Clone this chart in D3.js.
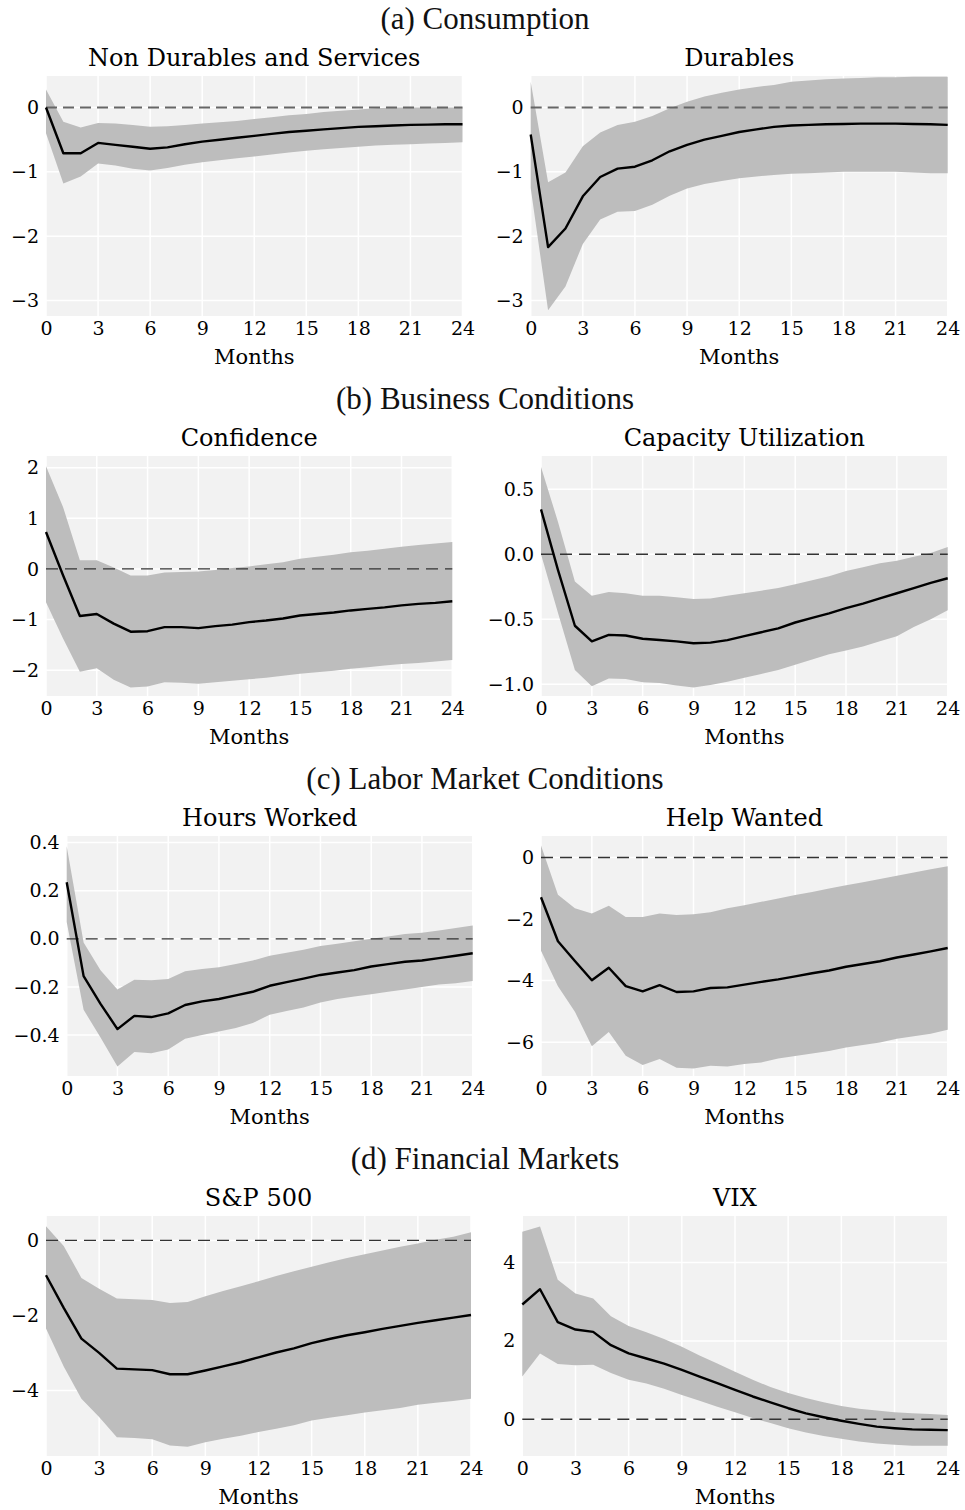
<!DOCTYPE html>
<html>
<head>
<meta charset="utf-8">
<script src="https://cdn.jsdelivr.net/npm/d3@7"></script>
<style>
  body { margin: 0; background: #ffffff; }
  svg { display: block; }
</style>
</head>
<body>
<svg></svg>
<script>
// horizon in months and the x tick labels
let months = [0,1,2,3,4,5,6,7,8,9,10,11,12,13,14,15,16,17,18,19,20,21,22,23,24]
let monthTicks = [0,3,6,9,12,15,18,21,24]

let sectionTitles = ["(a) Consumption", "(b) Business Conditions", "(c) Labor Market Conditions", "(d) Financial Markets"]

// (a) Consumption
let nondurMid = [0,-0.71,-0.71,-0.55,-0.58,-0.61,-0.64,-0.62,-0.57,-0.53,-0.50,-0.47,-0.44,-0.41,-0.38,-0.36,-0.34,-0.32,-0.30,-0.29,-0.28,-0.27,-0.265,-0.26,-0.26]
let nondurHi = [0.28,-0.22,-0.31,-0.24,-0.25,-0.27,-0.30,-0.29,-0.27,-0.25,-0.23,-0.21,-0.18,-0.15,-0.12,-0.10,-0.07,-0.05,-0.03,-0.01,0,0,0,0,0]
let nondurLo = [-0.40,-1.18,-1.07,-0.87,-0.90,-0.95,-0.98,-0.94,-0.89,-0.85,-0.82,-0.79,-0.76,-0.73,-0.70,-0.67,-0.65,-0.63,-0.61,-0.59,-0.58,-0.57,-0.56,-0.55,-0.54]

let durMid = [-0.42,-2.17,-1.88,-1.38,-1.08,-0.95,-0.92,-0.82,-0.68,-0.58,-0.50,-0.44,-0.38,-0.34,-0.30,-0.28,-0.27,-0.26,-0.255,-0.25,-0.25,-0.25,-0.255,-0.26,-0.27]
let durHi = [0.40,-1.16,-1.01,-0.60,-0.39,-0.27,-0.22,-0.13,-0.01,0.09,0.17,0.23,0.28,0.32,0.35,0.40,0.42,0.44,0.45,0.46,0.47,0.47,0.48,0.48,0.48]
let durLo = [-1.25,-3.15,-2.78,-2.12,-1.74,-1.62,-1.61,-1.51,-1.37,-1.26,-1.19,-1.14,-1.10,-1.07,-1.05,-1.03,-1.02,-1.01,-1.00,-1.00,-1.00,-1.00,-1.01,-1.02,-1.02]

// (b) Business Conditions
let confMid = [0.73,-0.12,-0.93,-0.89,-1.08,-1.24,-1.23,-1.15,-1.15,-1.17,-1.13,-1.10,-1.05,-1.02,-0.98,-0.92,-0.89,-0.86,-0.82,-0.79,-0.76,-0.72,-0.69,-0.67,-0.64]
let confHi = [2.03,1.23,0.17,0.17,0.03,-0.13,-0.13,-0.07,-0.06,-0.05,-0.02,0.02,0.05,0.09,0.13,0.20,0.24,0.28,0.33,0.36,0.40,0.44,0.47,0.50,0.53]
let confLo = [-0.66,-1.37,-2.03,-1.96,-2.19,-2.34,-2.32,-2.24,-2.25,-2.27,-2.24,-2.21,-2.18,-2.15,-2.11,-2.07,-2.04,-2.01,-1.97,-1.94,-1.91,-1.88,-1.86,-1.83,-1.80]

let capMid = [0.345,-0.12,-0.55,-0.67,-0.62,-0.625,-0.65,-0.66,-0.67,-0.685,-0.68,-0.66,-0.63,-0.60,-0.57,-0.525,-0.49,-0.455,-0.415,-0.38,-0.34,-0.30,-0.26,-0.22,-0.185]
let capHi = [0.67,0.25,-0.21,-0.32,-0.29,-0.30,-0.32,-0.32,-0.33,-0.345,-0.34,-0.32,-0.30,-0.28,-0.26,-0.23,-0.20,-0.17,-0.13,-0.10,-0.07,-0.05,-0.02,0.01,0.055]
let capLo = [0.0,-0.45,-0.89,-1.015,-0.955,-0.96,-0.985,-0.99,-1.01,-1.025,-1.005,-0.98,-0.95,-0.92,-0.89,-0.85,-0.81,-0.77,-0.74,-0.71,-0.67,-0.63,-0.56,-0.50,-0.43]

// (c) Labor Market Conditions
let hoursMid = [0.235,-0.155,-0.27,-0.375,-0.32,-0.325,-0.31,-0.275,-0.26,-0.25,-0.235,-0.22,-0.195,-0.18,-0.165,-0.15,-0.14,-0.13,-0.115,-0.105,-0.095,-0.09,-0.08,-0.07,-0.06]
let hoursHi = [0.385,-0.015,-0.13,-0.21,-0.17,-0.172,-0.167,-0.135,-0.125,-0.118,-0.105,-0.09,-0.07,-0.058,-0.045,-0.03,-0.02,-0.01,0,0.01,0.02,0.025,0.035,0.045,0.055]
let hoursLo = [0.07,-0.295,-0.41,-0.53,-0.47,-0.475,-0.46,-0.415,-0.40,-0.385,-0.37,-0.35,-0.315,-0.30,-0.285,-0.265,-0.25,-0.24,-0.23,-0.22,-0.21,-0.20,-0.19,-0.185,-0.175]

let helpMid = [-1.29,-2.72,-3.36,-3.99,-3.58,-4.18,-4.35,-4.15,-4.37,-4.35,-4.24,-4.22,-4.13,-4.04,-3.96,-3.86,-3.76,-3.67,-3.55,-3.46,-3.37,-3.25,-3.15,-3.05,-2.94]
let helpHi = [0.39,-1.21,-1.65,-1.82,-1.57,-1.93,-1.93,-1.82,-1.87,-1.84,-1.78,-1.65,-1.55,-1.44,-1.33,-1.22,-1.12,-1.01,-0.90,-0.80,-0.70,-0.59,-0.49,-0.38,-0.28]
let helpLo = [-3.03,-4.18,-5.01,-6.13,-5.67,-6.44,-6.74,-6.55,-6.83,-6.86,-6.77,-6.79,-6.71,-6.66,-6.53,-6.45,-6.37,-6.29,-6.17,-6.09,-6.01,-5.89,-5.81,-5.73,-5.60]

// (d) Financial Markets
let spMid = [-0.93,-1.80,-2.62,-3.00,-3.42,-3.44,-3.46,-3.57,-3.57,-3.47,-3.36,-3.25,-3.12,-2.99,-2.88,-2.74,-2.63,-2.53,-2.45,-2.36,-2.28,-2.20,-2.13,-2.06,-1.99]
let spHi = [0.38,-0.15,-1.00,-1.29,-1.55,-1.57,-1.59,-1.67,-1.64,-1.49,-1.35,-1.22,-1.09,-0.95,-0.82,-0.70,-0.58,-0.47,-0.37,-0.27,-0.17,-0.08,0.02,0.10,0.22]
let spLo = [-2.35,-3.36,-4.22,-4.71,-5.25,-5.27,-5.30,-5.47,-5.50,-5.38,-5.29,-5.21,-5.11,-5.02,-4.93,-4.80,-4.73,-4.66,-4.59,-4.53,-4.47,-4.38,-4.33,-4.28,-4.22]

let vixMid = [2.93,3.32,2.48,2.29,2.23,1.89,1.68,1.55,1.42,1.26,1.09,0.92,0.75,0.58,0.43,0.28,0.15,0.05,-0.04,-0.12,-0.19,-0.23,-0.26,-0.27,-0.28]
let vixHi = [4.79,4.92,3.56,3.21,3.08,2.63,2.38,2.22,2.05,1.85,1.63,1.42,1.21,1.01,0.82,0.67,0.54,0.43,0.34,0.27,0.22,0.18,0.15,0.13,0.11]
let vixLo = [1.09,1.68,1.41,1.38,1.39,1.18,1.01,0.91,0.78,0.62,0.47,0.32,0.18,0.03,-0.10,-0.23,-0.34,-0.43,-0.50,-0.57,-0.62,-0.65,-0.68,-0.68,-0.68]

// panel titles, y tick values and y limits
let panelTitles = ["Non Durables and Services", "Durables", "Confidence", "Capacity Utilization", "Hours Worked", "Help Wanted", "S&P 500", "VIX"]
let yTicks = [[0,-1,-2,-3],[0,-1,-2,-3],[2,1,0,-1,-2],[0.5,0,-0.5,-1],[0.4,0.2,0,-0.2,-0.4],[0,-2,-4,-6],[0,-2,-4],[0,2,4]]
let yLimits = [[-3.24,0.49],[-3.24,0.49],[-2.51,2.23],[-1.09,0.755],[-0.57,0.4275],[-7.1,0.70],[-5.75,0.65],[-0.94,5.19]]
let mids = [nondurMid, durMid, confMid, capMid, hoursMid, helpMid, spMid, vixMid]
let his = [nondurHi, durHi, confHi, capHi, hoursHi, helpHi, spHi, vixHi]
let los = [nondurLo, durLo, confLo, capLo, hoursLo, helpLo, spLo, vixLo]

// layout of each axes box: left, right (top/bottom come from the row)
let boxes = [[46,462.5],[530.7,947.7],[46,452.3],[541,947.7],[66.7,472.7],[541,947.7],[46,471],[522.3,947.7]]
let width = 965
let height = 1510
let rowStep = 380
let plotTop = 76
let plotH = 240

let svg = d3.select("svg").attr("width", width).attr("height", height)

let serif = "'DejaVu Serif', serif"

sectionTitles.forEach((t, r) => {
    svg.append("text")
        .attr("x", 485)
        .attr("y", 29 + r * rowStep)
        .attr("text-anchor", "middle")
        .style("font-family", "'Liberation Serif', serif")
        .style("font-size", "31px")
        .attr("fill", "#111")
        .text(t)
})

let drawPanel = (i) => {
    let row = Math.floor(i / 2)
    let left = boxes[i][0]
    let w = boxes[i][1] - boxes[i][0]
    let top = plotTop + row * rowStep

    let xScale = d3.scaleLinear().domain([0, 24]).range([0, w])
    let yScale = d3.scaleLinear().domain(yLimits[i]).range([plotH, 0])

    let g = svg.append("g").attr("transform", "translate(" + left + "," + top + ")")

    g.append("rect").attr("width", w).attr("height", plotH).attr("fill", "#f2f2f2")

    // white grid
    g.selectAll(".vgrid").data(monthTicks).enter().append("line")
        .attr("x1", d => xScale(d)).attr("x2", d => xScale(d))
        .attr("y1", 0).attr("y2", plotH)
        .attr("stroke", "#ffffff").attr("stroke-width", 1.5)
    g.selectAll(".hgrid").data(yTicks[i]).enter().append("line")
        .attr("x1", 0).attr("x2", w)
        .attr("y1", d => yScale(d)).attr("y2", d => yScale(d))
        .attr("stroke", "#ffffff").attr("stroke-width", 1.5)

    let band = d3.area()
        .x((d, k) => xScale(months[k]))
        .y0((d, k) => yScale(los[i][k]))
        .y1((d, k) => yScale(his[i][k]))
    g.append("path").datum(months).attr("d", band).attr("fill", "#bdbdbd")

    // zero line
    g.append("line")
        .attr("x1", 0).attr("x2", w)
        .attr("y1", yScale(0)).attr("y2", yScale(0))
        .attr("stroke", row == 0 ? "#666" : "#333")
        .attr("stroke-width", row == 0 ? 2 : 1.4)
        .attr("stroke-dasharray", row == 0 ? "11,6" : "12,7")

    let line = d3.line()
        .x((d, k) => xScale(months[k]))
        .y(d => yScale(d))
    g.append("path").datum(mids[i]).attr("d", line)
        .attr("fill", "none").attr("stroke", "#000").attr("stroke-width", 2.4)
        .attr("stroke-linejoin", "round")

    let fmt = (i == 3 || i == 4) ? d3.format(".1f") : d3.format("d")

    let yAxis = g.append("g")
        .call(d3.axisLeft(yScale).tickValues(yTicks[i]).tickSize(0).tickPadding(7).tickFormat(fmt))
    let xAxis = g.append("g")
        .attr("transform", "translate(0," + plotH + ")")
        .call(d3.axisBottom(xScale).tickValues(monthTicks).tickSize(0).tickPadding(6))
    ;[xAxis, yAxis].forEach(a => {
        a.select(".domain").remove()
        a.selectAll("text")
            .style("font-family", serif)
            .style("font-size", "19px")
            .attr("fill", "#000")
    })

    g.append("text")
        .attr("x", w / 2).attr("y", plotH + 48)
        .attr("text-anchor", "middle")
        .style("font-family", serif).style("font-size", "21px")
        .attr("fill", "#000")
        .text("Months")

    g.append("text")
        .attr("x", w / 2).attr("y", -10)
        .attr("text-anchor", "middle")
        .style("font-family", serif).style("font-size", "24px")
        .attr("fill", "#000")
        .text(panelTitles[i])
}

panelTitles.forEach((t, i) => drawPanel(i))
</script>
</body>
</html>
